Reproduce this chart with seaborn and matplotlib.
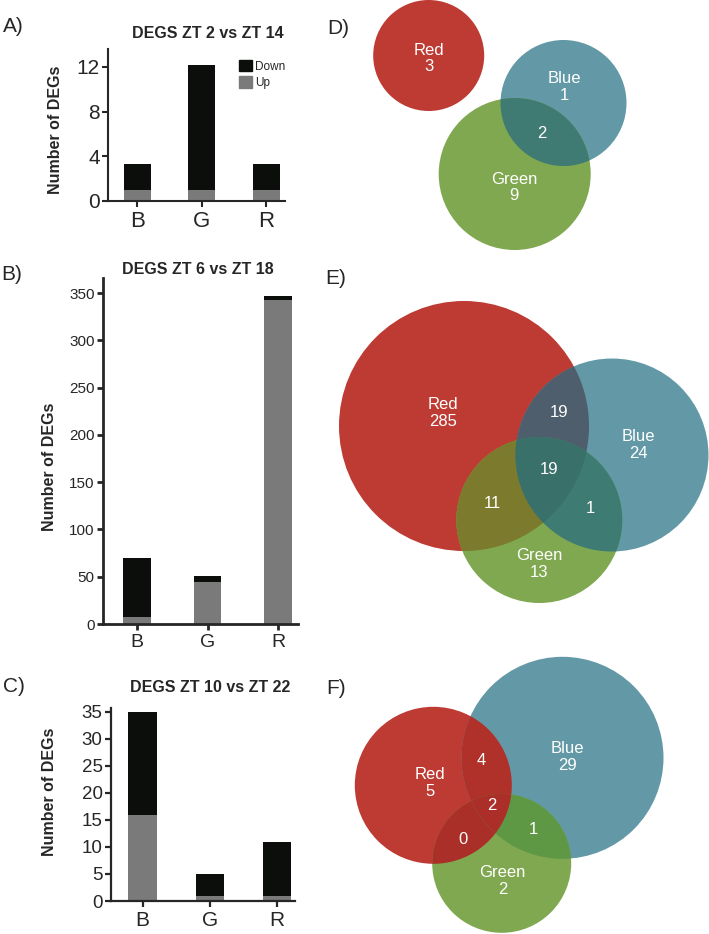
import numpy as np
import pandas as pd
import seaborn as sns
import matplotlib.pyplot as plt
from matplotlib.patches import Circle, Polygon, Patch

# bar chart data (number of DEGs per tissue group)
categories = ['B', 'G', 'R']
a_up = [1, 1, 1]
a_down = [2.3, 11.2, 2.3]
b_up = [7, 44, 343]
b_down = [63, 7, 4]
c_up = [16, 1, 1]
c_down = [19, 4, 10]

# venn data: unique counts (Red, Blue, Green) and overlaps (RB, RG, BG, RBG)
set_names = ['Red', 'Blue', 'Green']
overlap_keys = ['RB', 'RG', 'BG', 'RBG']
d_only = [3, 1, 9]
d_shared = [None, None, 2, None]
e_only = [285, 24, 13]
e_shared = [19, 11, 1, 19]
f_only = [5, 29, 2]
f_shared = [4, 0, 1, 2]

W, H = 709, 934
down_color = '#0b0e0b'
up_color = '#7a7a7a'
red, blue, green = '#bd3b33', '#6399a6', '#80a851'

sns.set_style('ticks')
plt.rcParams['font.family'] = ['Liberation Sans', 'DejaVu Sans']

fig = plt.figure(figsize=(W / 100, H / 100), dpi=100)


def rect(x0, y0, x1, y1):
    # pixel box -> figure fraction
    return [x0 / W, 1 - y1 / H, (x1 - x0) / W, (y1 - y0) / H]


def fx(x):
    return x / W


def fy(y):
    return 1 - y / H


def bar_panel(box, up, down, width, ylim, xlim, yticks, ysize, xsize, lw):
    ax = fig.add_axes(rect(*box))
    total = [u + d for u, d in zip(up, down)]
    df = pd.DataFrame({'group': categories, 'total': total, 'up': up})
    sns.barplot(data=df, x='group', y='total', color=down_color, width=width,
                saturation=1, errorbar=None, linewidth=0, ax=ax)
    sns.barplot(data=df, x='group', y='up', color=up_color, width=width,
                saturation=1, errorbar=None, linewidth=0, ax=ax)
    ax.set_xlim(*xlim)
    ax.set_ylim(*ylim)
    ax.set_yticks(yticks)
    ax.set_xlabel('')
    ax.set_ylabel('')
    sns.despine(ax=ax)
    for s in ['left', 'bottom']:
        ax.spines[s].set_linewidth(lw)
    ax.tick_params(axis='y', labelsize=ysize, width=lw, length=4, pad=2)
    ax.tick_params(axis='x', labelsize=xsize, width=lw, length=4, pad=3)
    return ax


axA = bar_panel((108, 49, 285, 201), a_up, a_down, 0.42, (0, 13.6), (-0.45, 2.29),
                [0, 4, 8, 12], 15, 16, 1.5)
axB = bar_panel((103, 278, 298, 624), b_up, b_down, 0.39, (0, 366), (-0.48, 2.28),
                [0, 50, 100, 150, 200, 250, 300, 350], 11, 14, 2)
axC = bar_panel((111, 708, 295, 901), c_up, c_down, 0.42, (0, 35.7), (-0.47, 2.27),
                [0, 5, 10, 15, 20, 25, 30, 35], 13.5, 15, 1.6)

axA.legend(handles=[Patch(color=down_color, label='Down'), Patch(color=up_color, label='Up')],
           loc='upper left', bbox_to_anchor=(fx(239), fy(60)), bbox_transform=fig.transFigure,
           frameon=False, fontsize=8.5, handlelength=1.1, handleheight=1.1,
           handletextpad=0.25, labelspacing=0.3, borderpad=0, borderaxespad=0)

# titles, y labels, panel letters
for x, y, s in [(208, 33, 'DEGS ZT 2 vs ZT 14'), (198, 270, 'DEGS ZT 6 vs ZT 18'),
                (210, 687, 'DEGS ZT 10 vs ZT 22')]:
    fig.text(fx(x), fy(y), s, ha='center', va='center', fontsize=11.5, fontweight='bold')
for x, y in [(56, 130), (50, 467), (49, 792)]:
    fig.text(fx(x), fy(y), 'Number of DEGs', ha='center', va='center', rotation=90,
             fontsize=11.5, fontweight='bold')
for x, y, s in [(3, 27, 'A)'), (1, 274, 'B)'), (3, 686, 'C)'),
                (327, 29, 'D)'), (325, 278, 'E)'), (326, 688, 'F)')]:
    fig.text(fx(x), fy(y), s, ha='left', va='center', fontsize=15)

# venn diagrams in pixel space
axV = fig.add_axes([0, 0, 1, 1])
axV.set_xlim(0, W)
axV.set_ylim(H, 0)
axV.axis('off')


def region(circles):
    # convex intersection of circles as a polygon
    t = np.linspace(0, 2 * np.pi, 1440)
    pts = np.vstack([np.column_stack([cx + r * np.cos(t), cy + r * np.sin(t)])
                     for cx, cy, r in circles])
    inside = np.all([np.hypot(pts[:, 0] - cx, pts[:, 1] - cy) <= r + 1e-6
                     for cx, cy, r in circles], axis=0)
    pts = pts[inside]
    c = pts.mean(axis=0)
    return pts[np.argsort(np.arctan2(pts[:, 1] - c[1], pts[:, 0] - c[0]))]


def venn(circles, only, shared, mix_colors, name_pos, shared_pos):
    idx = {'R': 0, 'B': 1, 'G': 2}
    for (cx, cy, r), col in zip(circles, [red, blue, green]):
        axV.add_patch(Circle((cx, cy), r, facecolor=col, edgecolor='none'))
    for key, col in zip(overlap_keys, mix_colors):
        if col is None:
            continue
        pts = region([circles[idx[k]] for k in key])
        if len(pts) > 2:
            axV.add_patch(Polygon(pts, closed=True, facecolor=col, edgecolor='none'))
    for name, n, (x, y) in zip(set_names, only, name_pos):
        axV.text(x, y, f'{name}\n{n}', color='white', ha='center', va='center',
                 fontsize=12, linespacing=1.15)
    for n, pos in zip(shared, shared_pos):
        if n is None or pos is None:
            continue
        axV.text(pos[0], pos[1], str(n), color='white', ha='center', va='center', fontsize=12)


venn([(428.7, 55.5, 55.5), (563.5, 103, 63), (514.7, 174, 76)],
     d_only, d_shared, [None, None, '#3f7b73', None],
     [(428.7, 58.5), (564.3, 87.3), (514.3, 187.5)],
     [None, None, (541.7, 134), None])

venn([(464, 426, 125), (612, 455, 96.5), (539.3, 520, 83)],
     e_only, e_shared, ['#4f5e6c', '#7c7a2c', '#3d7b73', '#3a706a'],
     [(442.7, 413), (638.3, 444.7), (539, 564)],
     [(559, 412.7), (492.7, 503.3), (590.7, 508.3), (549.3, 469.3)])

venn([(433.3, 785.3, 78.5), (562.5, 757.8, 101), (501.7, 863.3, 69.5)],
     f_only, f_shared, ['#b0312a', '#aa2f28', '#5f9845', '#ab2f28'],
     [(430, 783), (567.7, 757), (502.7, 881)],
     [(481, 760.7), (462.7, 839.3), (533.3, 829.3), (491.7, 805)])

fig.savefig('out.png', dpi=100)
